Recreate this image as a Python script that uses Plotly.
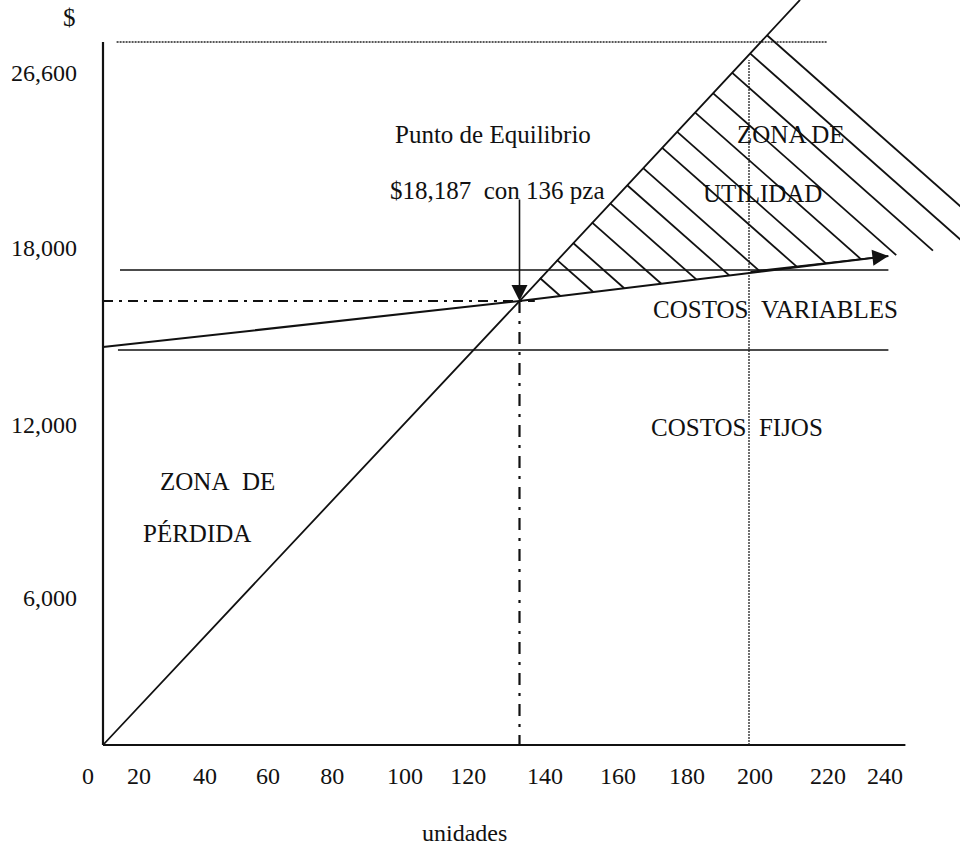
import plotly.graph_objects as go

# ---------------- data ----------------
x_tick_labels = ["0", "20", "40", "60", "80", "100", "120", "140", "160", "180", "200", "220", "240"]
x_tick_pos = [5.6, 20.6, 40, 58.5, 77.4, 98.8, 117.4, 140, 161.5, 181.8, 201.8, 223.2, 240]
y_tick_labels = ["6,000", "12,000", "18,000", "26,600"]
y_tick_pos = [6020, 13110, 20360, 27530]

breakeven_units = 132.5
breakeven_usd = 18187

revenue_units = [10, 132.5, 215]
revenue_usd = [0, 18187, 30520]

total_cost_units = [10, 132.5, 241]
total_cost_usd = [16300, 18187, 20030]

fixed_cost_units = [14.4, 241]
fixed_cost_usd = [16180, 16180]

upper_line_units = [15, 241]
upper_line_usd = [19457, 19457]

top_dotted_units = [14, 223]
top_dotted_usd = [28796, 28796]

vertical_200_units = [200, 200]
vertical_200_usd = [0, 28060]

yaxis_units = [10, 10]
yaxis_usd = [0, 28800]
xaxis_units = [10, 246]
xaxis_usd = [0, 0]

hatch_start_units = [138.5, 143.5, 148.2, 153.8, 159.1, 164.1, 168.8, 174.4, 178.8, 184.1, 189.4, 195.0, 200.3, 205.3]
hatch_start_usd = [19129, 19873, 20572, 21406, 22195, 22939, 23639, 24473, 25128, 25917, 26705, 27539, 28328, 29072]
hatch_end_units = [144.5, 154.2, 163.3, 174.2, 184.5, 194.2, 203.3, 214.2, 222.7, 233.0, 243.3, 254.1, 264.4, 274.1]
hatch_end_usd = [18391, 18556, 18710, 18895, 19070, 19235, 19390, 19574, 19719, 19894, 20069, 20253, 20428, 20594]

arrow_tail_usd = 22406
cost_arrow_tail_units = 200
cost_arrow_tail_usd = 19380

FONT = "Liberation Serif"
BLACK = "#111111"

fig = go.Figure()

def line(xs, ys, width=1.8, dash="solid", color=BLACK):
    fig.add_trace(go.Scatter(x=xs, y=ys, mode="lines",
                             line=dict(color=color, width=width, dash=dash),
                             hoverinfo="skip", showlegend=False))

# axes
line(yaxis_units, yaxis_usd, width=2.2)
line(xaxis_units, xaxis_usd, width=2.2)

# guide lines
line(top_dotted_units, top_dotted_usd, width=1.3, dash="2px,1px", color="#222222")
line(vertical_200_units, vertical_200_usd, width=1.3, dash="2px,1px", color="#222222")
line(upper_line_units, upper_line_usd, width=1.6)
line(fixed_cost_units, fixed_cost_usd, width=1.6)

# break-even dash-dot guides
line([yaxis_units[0], breakeven_units + 4.5], [breakeven_usd, breakeven_usd], width=2.2, dash="10px,6px,3px,6px")
line([breakeven_units, breakeven_units], [breakeven_usd, 0], width=2.2, dash="12px,8px,3px,8px")

# hatch lines (profit zone)
hx, hy = [], []
for xs, ys, xe, ye in zip(hatch_start_units, hatch_start_usd, hatch_end_units, hatch_end_usd):
    hx += [xs, xe, None]
    hy += [ys, ye, None]
line(hx, hy, width=1.8)

# revenue and total cost lines
line(revenue_units, revenue_usd, width=1.8)
line(total_cost_units, total_cost_usd, width=2.0)

annotations = []
# arrowheads
annotations.append(dict(x=total_cost_units[-1], y=total_cost_usd[-1], xref="x", yref="y",
                        ax=cost_arrow_tail_units, ay=cost_arrow_tail_usd, axref="x", ayref="y",
                        showarrow=True, arrowhead=2, arrowsize=2, arrowwidth=1.6,
                        arrowcolor=BLACK, text="", standoff=0))
annotations.append(dict(x=breakeven_units, y=breakeven_usd, xref="x", yref="y",
                        ax=breakeven_units, ay=arrow_tail_usd, axref="x", ayref="y",
                        showarrow=True, arrowhead=2, arrowsize=2, arrowwidth=1.6,
                        arrowcolor=BLACK, text="", standoff=0))

def txt(text, x, y, size=25, xref="x", yref="y"):
    annotations.append(dict(text=text, x=x, y=y, xref=xref, yref=yref, showarrow=False,
                            xanchor="center", yanchor="middle",
                            font=dict(family=FONT, size=size, color=BLACK)))

NB = "\u00a0"
txt("Punto de Equilibrio", 124.7, 25028)
txt("$18,187" + NB + NB + "con 136 pza", 125.9, 22734)
txt("ZONA DE", 212.4, 25028)
txt("UTILIDAD", 204.1, 22611)
txt("COSTOS" + NB + NB + "VARIABLES", 207.9, 17859)
txt("COSTOS" + NB + NB + "FIJOS", 196.5, 13026)
txt("ZONA" + NB + NB + "DE", 43.8, 10814)
txt("PÉRDIDA", 37.6, 8684)
txt("$", -0.0114, 0.977, xref="paper", yref="paper")
txt("unidades", 0.4364, -0.114, size=24, xref="paper", yref="paper")

fig.update_layout(
    width=970, height=846, autosize=False,
    margin=dict(l=80, r=10, t=0, b=98, pad=0),
    paper_bgcolor="white", plot_bgcolor="white",
    showlegend=False,
    annotations=annotations,
    font=dict(family=FONT, size=24, color=BLACK),
    xaxis=dict(range=[3.235, 262.06], showgrid=False, zeroline=False, showline=False,
               tickmode="array", tickvals=x_tick_pos, ticktext=x_tick_labels,
               ticks="", ticklabelstandoff=11,
               tickfont=dict(family=FONT, size=24, color=BLACK)),
    yaxis=dict(range=[-123, 30517], showgrid=False, zeroline=False, showline=False,
               tickmode="array", tickvals=y_tick_pos, ticktext=y_tick_labels,
               ticks="", ticklabelstandoff=2,
               tickfont=dict(family=FONT, size=24, color=BLACK)),
)

fig.write_html("out.html")
